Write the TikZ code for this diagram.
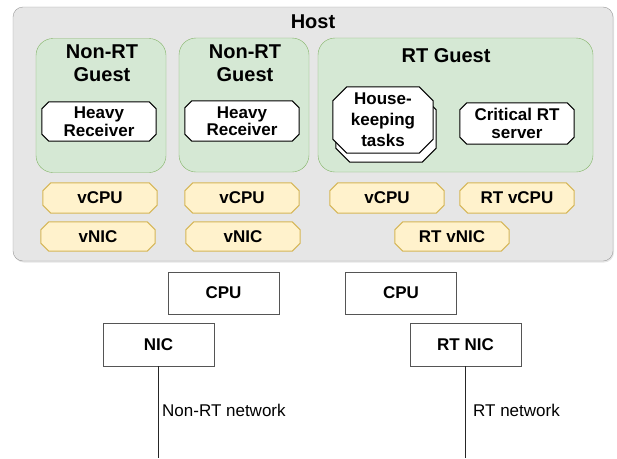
\documentclass[tikz,border=0pt]{standalone}
\usepackage{fontspec}
\setmainfont{Liberation Sans}
\usetikzlibrary{shadows}
\definecolor{hostfill}{HTML}{E6E6E6}
\definecolor{hostdraw}{HTML}{9A9A9A}
\definecolor{gfill}{HTML}{D5E8D4}
\definecolor{gdraw}{HTML}{82B366}
\definecolor{yfill}{HTML}{FFF2CC}
\definecolor{ydraw}{HTML}{D6B656}
\definecolor{boxdraw}{HTML}{555555}
\pgfdeclarelayer{back}\pgfdeclarelayer{mid}\pgfsetlayers{back,mid,main}
\newcommand\chamf[3]{\path[#3] ([xshift=#2]#1.north west) -- ([xshift=-#2]#1.north east) -- ([yshift=-#2]#1.north east) -- ([yshift=#2]#1.south east) -- ([xshift=-#2]#1.south east) -- ([xshift=#2]#1.south west) -- ([yshift=#2]#1.south west) -- ([yshift=-#2]#1.north west) -- cycle;}
\begin{document}
\begin{tikzpicture}[x=1pt,y=-1pt, line width=1pt,
  hostbox/.style={rectangle, rounded corners=10pt, fill=hostfill, draw=hostdraw, minimum width=600pt, minimum height=254pt, inner sep=0pt, drop shadow={shadow xshift=1pt, shadow yshift=-1.5pt, opacity=.2}},
  guestbox/.style={rectangle, rounded corners=17pt, fill=gfill, draw=gdraw, minimum height=134pt, inner sep=0pt},
  gtitle/.style={font=\fontsize{20}{23}\selectfont\bfseries, align=center, inner sep=0pt},
  task/.style={inner sep=0pt, minimum width=114pt, align=center, font=\fontsize{17}{17.5}\selectfont\bfseries},
  virt/.style={inner sep=0pt, minimum width=114pt, minimum height=30pt, font=\fontsize{17}{17.5}\selectfont\bfseries},
  hw/.style={rectangle, draw=boxdraw, fill=white, inner sep=0pt, minimum width=111pt, minimum height=42pt, font=\fontsize{17}{17.5}\selectfont\bfseries},
  whitechamf/.style={draw=black, fill=white, line width=1pt},
  yellowchamf/.style={draw=ydraw, fill=yfill, line width=1pt},
  netlbl/.style={anchor=west, inner sep=0pt, font=\fontsize{17}{17.5}\selectfont},
  netline/.style={draw=black!85, line width=1pt}
]
\useasboundingbox (0,0) rectangle (617,458);
\begin{pgfonlayer}{back}
\node[hostbox] (host) at (313,134) {};
\node[guestbox, minimum width=130pt] (g1) at (101,105.5) {};
\node[guestbox, minimum width=130pt] (g2) at (244,105) {};
\node[guestbox, minimum width=275pt] (g3) at (455.5,105) {};
\end{pgfonlayer}
\node[gtitle] (hostlbl) at (313,22) {Host};
\node[gtitle] (g1lbl) at (102,63.5) {Non-RT\\Guest};
\node[gtitle] (g2lbl) at (245,63.5) {Non-RT\\Guest};
\node[gtitle] (g3lbl) at (446,56) {RT Guest};
% tasks
\node[task, minimum height=39pt] (hr1) at (99,121.5) {Heavy\\Receiver};
\node[task, minimum height=40pt] (hr2) at (242,121) {Heavy\\Receiver};
\node[task, minimum height=41pt] (crit) at (517,123.5) {Critical RT\\server};
\node[inner sep=0pt, minimum width=100pt, minimum height=66pt] (hkb) at (386,129) {};
\node[inner sep=0pt, minimum width=100pt, minimum height=66pt, align=center, font=\fontsize{17}{21}\selectfont\bfseries] (hk) at (383,120) {House-\\keeping\\tasks};
% virtual devices
\node[virt] (vc1) at (100,198) {vCPU};
\node[virt] (vc2) at (242,198) {vCPU};
\node[virt] (vc3) at (387,198) {vCPU};
\node[virt] (rtvc) at (517,198) {RT vCPU};
\node[virt, minimum height=29pt] (vn1) at (98,236.5) {vNIC};
\node[virt, minimum height=29pt] (vn2) at (243,236.5) {vNIC};
\node[virt, minimum height=29pt] (rtvn) at (452,236.5) {RT vNIC};
\begin{pgfonlayer}{mid}
\chamf{hr1}{7pt}{whitechamf}
\chamf{hr2}{7pt}{whitechamf}
\chamf{crit}{7pt}{whitechamf}
\chamf{hkb}{14pt}{whitechamf}
\chamf{hk}{14pt}{whitechamf}
\chamf{vc1}{8pt}{yellowchamf}
\chamf{vc2}{8pt}{yellowchamf}
\chamf{vc3}{8pt}{yellowchamf}
\chamf{rtvc}{8pt}{yellowchamf}
\chamf{vn1}{8pt}{yellowchamf}
\chamf{vn2}{8pt}{yellowchamf}
\chamf{rtvn}{8pt}{yellowchamf}
\end{pgfonlayer}
% hardware
\node[hw] (cpu1) at (223.5,293) {CPU};
\node[hw] (cpu2) at (401,293) {CPU};
\node[hw, minimum height=43pt] (nic) at (158.5,344.5) {NIC};
\node[hw, minimum height=43pt] (rtnic) at (465.5,344.5) {RT NIC};
\coordinate (bottom) at (0,458);
\draw[netline] (nic.south) -- (nic.south |- bottom);
\draw[netline] (rtnic.south) -- (rtnic.south |- bottom);
\node[netlbl] (nrtnet) at (162,410.5) {Non-RT network};
\node[netlbl] (rtnet) at (473,410.5) {RT network};
\end{tikzpicture}
\end{document}
